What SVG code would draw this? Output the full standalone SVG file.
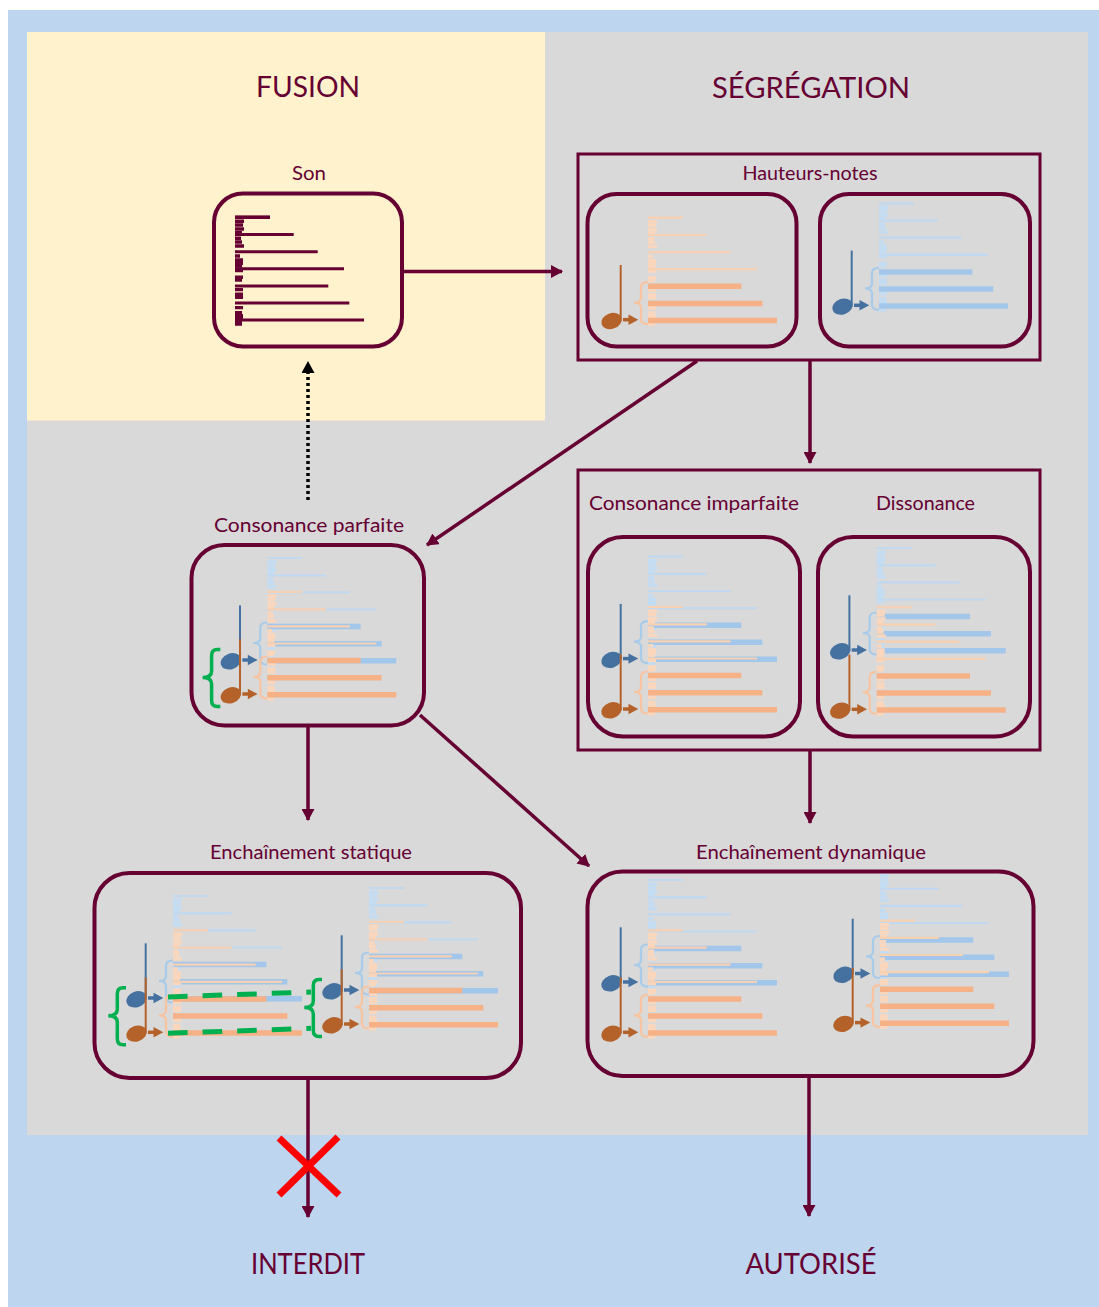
<svg xmlns="http://www.w3.org/2000/svg" width="1099" height="1307" viewBox="0 0 1099 1307">
<style>
text{font-family:"Lato","Liberation Sans",sans-serif;fill:#660033;text-anchor:middle}
.big{font-size:29px}
.sm{font-size:19.5px}
.box{fill:none;stroke:#660033;stroke-width:4}
.frame{fill:none;stroke:#660033;stroke-width:3}
.con{fill:none;stroke:#660033;stroke-width:3.5;marker-end:url(#ah)}
.gb{fill:none;stroke:#00b050;stroke-width:3.5}
</style>
<defs>
<marker id="ah" markerUnits="userSpaceOnUse" markerWidth="13" markerHeight="13" refX="11" refY="6.500" orient="auto"><path d="M0,0L12,6.500L0,13z" fill="#660033"/></marker>
<marker id="ahk" markerUnits="userSpaceOnUse" markerWidth="13" markerHeight="13" refX="11" refY="6.500" orient="auto"><path d="M0,0L12,6.500L0,13z" fill="#000"/></marker>
<path id="stubs" fill="none" stroke-width="3.4" d="M0,4h9M0,7.700h8M0,11.700h9M0,15.300h7M0,21h6M0,24.700h7M0,28.700h9M0,38.700h5M0,42.700h8M0,46h8M0,48.700h7M0,53.300h8M0,60h8M0,62.700h7M0,72.300h8M0,77h8M0,80h8M0,90.300h8M0,95.300h7M0,98.300h8M0,101h8M0,104.300h7M0,106.700h7"/>
<path id="tops" fill="none" d="M0,0h35M0,17.300h58.700M0,34.400h82.700M0,51.500h109"/>
<path id="bots" fill="none" d="M0,68.600h93.300M0,85.700h114.300M0,102.700h129"/>
<g id="orange">
<use href="#stubs" stroke="#fad6bc"/>
<use href="#tops" stroke="#f8d0b2" stroke-width="2.200"/>
<use href="#bots" stroke="#f6b187" stroke-width="5.500"/>
<path d="M0,64.500q-7,0 -7,5V80q0,5 -7,5q7,0 7,5V101.500q0,5 7,5" fill="none" stroke="#f8c4a0" stroke-width="2.200"/>
<path d="M-27.300,47.300V103" stroke="#b5622a" stroke-width="2"/>
<ellipse cx="-36.500" cy="103.300" rx="10.500" ry="7.800" transform="rotate(-20 -36.500 103.300)" fill="#b5622a"/>
<path d="M-25,102h7" stroke="#b5622a" stroke-width="3.500"/>
<path d="M-19.500,96.800L-9.700,102L-19.500,107.200z" fill="#b5622a"/>
</g>
<g id="blue">
<use href="#stubs" stroke="#c4dcf1"/>
<use href="#tops" stroke="#c0d9f0" stroke-width="2.200"/>
<use href="#bots" stroke="#a2c7ea" stroke-width="5.500"/>
<path d="M0,64.500q-7,0 -7,5V80q0,5 -7,5q7,0 7,5V101.500q0,5 7,5" fill="none" stroke="#a8cbea" stroke-width="2.200"/>
<path d="M-27.300,47.300V103" stroke="#44719f" stroke-width="2"/>
<ellipse cx="-36.500" cy="103.300" rx="10.500" ry="7.800" transform="rotate(-20 -36.500 103.300)" fill="#44719f"/>
<path d="M-25,102h7" stroke="#44719f" stroke-width="3.500"/>
<path d="M-19.500,96.800L-9.700,102L-19.500,107.200z" fill="#44719f"/>
</g>
<path id="greenbrace" class="gb" d="M-47,57.500h-3q-5.700,0 -5.700,6V79q0,6.500 -9,6.500q9,0 9,6.500V108.500q0,6 5.700,6h3"/>
</defs>

<rect id="page" x="8" y="10" width="1091" height="1297" fill="#bdd5ee"/>
<rect id="segregation-zone" x="27" y="32" width="1061" height="1103" fill="#d9d9d9"/>
<rect id="fusion-zone" x="27" y="32" width="518" height="388.500" fill="#fff2cc"/>

<text class="big" x="308" y="97" textLength="104" lengthAdjust="spacingAndGlyphs">FUSION</text>
<text class="big" x="811" y="98" textLength="198" lengthAdjust="spacingAndGlyphs">SÉGRÉGATION</text>

<g id="connectors">
<path class="con" d="M402,271.500H562"/>
<path class="con" d="M810,360V463"/>
<path class="con" d="M697,361L427,545"/>
<path fill="none" stroke="#000" stroke-width="3.500" stroke-dasharray="3 3" marker-end="url(#ahk)" d="M308,500V362"/>
<path class="con" d="M308,726V820"/>
<path class="con" d="M420,715L589,866"/>
<path class="con" d="M810,750V823"/>
<path class="con" d="M308,1078V1217"/>
<path class="con" d="M809,1076V1216"/>
</g>

<g id="son">
<text class="sm" x="309" y="180" textLength="34" lengthAdjust="spacingAndGlyphs">Son</text>
<rect class="box" x="214" y="193.500" width="188" height="153" rx="29"/>
<g transform="translate(235,217.300)" stroke="#660033">
<use href="#stubs"/>
<use href="#tops" stroke-width="3"/>
<use href="#bots" stroke-width="3"/>
<path d="M0,0h35" stroke-width="3.500"/>
</g>
</g>

<g id="hauteurs-notes">
<rect class="frame" x="578" y="154" width="462" height="206"/>
<text class="sm" x="810" y="180" textLength="135" lengthAdjust="spacingAndGlyphs">Hauteurs-notes</text>
<use href="#orange" x="648" y="217.700"/>
<rect class="box" x="587.500" y="194" width="209" height="152.500" rx="29"/>
<use href="#blue" x="879" y="203.300"/>
<rect class="box" x="820" y="194" width="210" height="152.500" rx="29"/>
</g>

<g id="consonance-imparfaite-dissonance">
<rect class="frame" x="578" y="470" width="462" height="280"/>
<text class="sm" x="694" y="510" textLength="210" lengthAdjust="spacingAndGlyphs">Consonance imparfaite</text>
<text class="sm" x="925.500" y="510" textLength="99" lengthAdjust="spacingAndGlyphs">Dissonance</text>
<use href="#blue" x="648" y="556.600"/>
<use href="#orange" x="648" y="607"/>
<rect class="box" x="588" y="537" width="212" height="199.500" rx="35"/>
<use href="#blue" x="876.700" y="548"/>
<use href="#orange" x="876.700" y="607.300"/>
<rect class="box" x="818" y="537" width="212" height="199.500" rx="35"/>
</g>

<g id="consonance-parfaite">
<text class="sm" x="309" y="532" textLength="190" lengthAdjust="spacingAndGlyphs">Consonance parfaite</text>
<use href="#blue" x="267.300" y="558"/>
<use href="#orange" x="267.300" y="592"/>
<use href="#greenbrace" x="267.300" y="592"/>
<rect class="box" x="191.500" y="545" width="232.500" height="180.500" rx="33"/>
</g>

<g id="enchainement-statique">
<text class="sm" x="311" y="859" textLength="202" lengthAdjust="spacingAndGlyphs">Enchaînement statique</text>
<use href="#blue" x="173" y="896"/>
<use href="#orange" x="173" y="930.300"/>
<use href="#greenbrace" x="173" y="930.300"/>
<use href="#blue" x="369" y="888"/>
<use href="#orange" x="369" y="922"/>
<use href="#greenbrace" x="369" y="922"/>
<path d="M168,997L311,992M168,1033.300L311,1028.300" fill="none" stroke="#00b050" stroke-width="5" stroke-dasharray="19.600 15"/>
<rect class="box" x="94.500" y="873" width="426.500" height="205" rx="35"/>
</g>

<g id="enchainement-dynamique">
<text class="sm" x="811" y="858.500" textLength="230" lengthAdjust="spacingAndGlyphs">Enchaînement dynamique</text>
<use href="#blue" x="648" y="880"/>
<use href="#orange" x="648" y="930.300"/>
<use href="#blue" x="880" y="871.500"/>
<use href="#orange" x="880" y="920.600"/>
<rect class="box" x="587.500" y="871.500" width="446" height="204.500" rx="35"/>
</g>

<path id="forbidden" d="M279,1138L339,1195M338,1137L279,1195" fill="none" stroke="#ff0000" stroke-width="7"/>
<text class="big" x="308" y="1274" textLength="114" lengthAdjust="spacingAndGlyphs">INTERDIT</text>
<text class="big" x="811" y="1274" textLength="131" lengthAdjust="spacingAndGlyphs">AUTORISÉ</text>
</svg>
